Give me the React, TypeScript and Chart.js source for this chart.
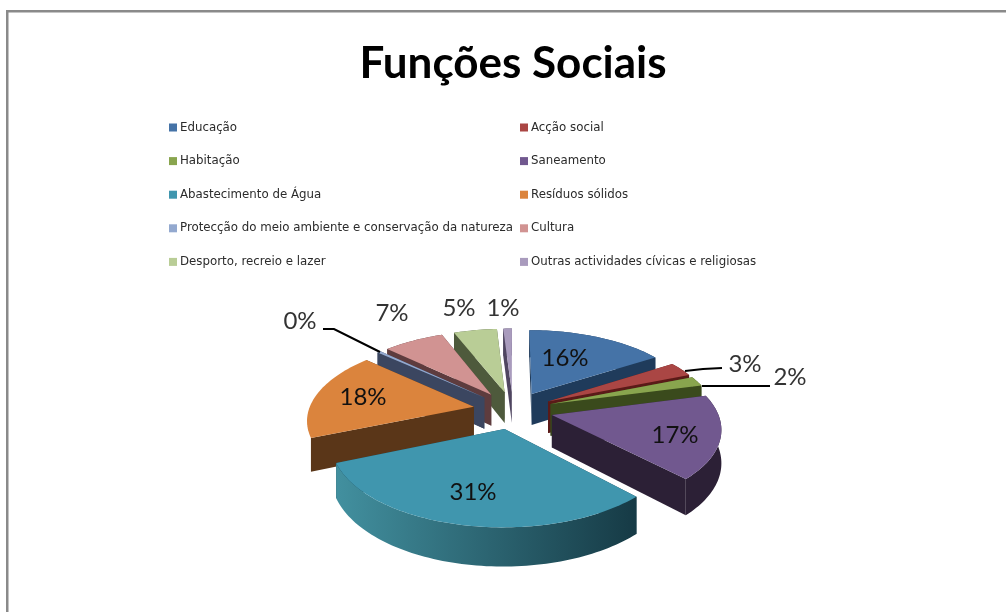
import React, { useEffect, useRef } from "react";
import { Chart, registerables } from "chart.js";

Chart.register(...registerables);

const titleText = "Funções Sociais";
const categories = [
  "Educação",
  "Acção social",
  "Habitação",
  "Saneamento",
  "Abastecimento de Água",
  "Resíduos sólidos",
  "Protecção do meio ambiente e conservação da natureza",
  "Cultura",
  "Desporto, recreio e lazer",
  "Outras actividades cívicas e religiosas",
];
// Shares in percent; the environment share is small enough to round to 0%.
const shares = [16, 3, 2, 17, 31, 18, 0.4, 7, 5, 1];

const topColors = ["#4573a7", "#aa4644", "#89a54e", "#71588f", "#4096ae", "#db843d", "#93a9cf", "#d19392", "#b9cd96", "#a99bbd"];
const sideColors = ["#1f3b5b", "#5a1a18", "#3a4a1c", "#2c2036", "#1b4350", "#5a3618", "#3b4660", "#5e3c3e", "#4e5a3c", "#4f4560"];
const rimStart = ["#1f3b5b", "#5a1a18", "#3a4a1c", "#2c2036", "#42909f", "#5a3618", "#3b4660", "#5e3c3e", "#4e5a3c", "#4f4560"];
const rimEnd = ["#1f3b5b", "#5a1a18", "#3a4a1c", "#2c2036", "#163a45", "#5a3618", "#3b4660", "#5e3c3e", "#4e5a3c", "#4f4560"];
// The left-hand slice shows only its cut face, with no curved wall below the arc.
const hiddenRims = [5];

// Where each percentage sits on the canvas.
const labelAnchors: [number, number][] = [
  [565, 358], [745, 364], [790, 377], [675, 435], [473, 492],
  [363, 397], [300, 321], [392, 313], [459, 308], [503, 308],
];
const leaders: [number, number][][] = [
  [[685, 371], [703, 369], [722, 368]],
  [[702, 386], [770, 386]],
  [[323, 329], [334, 329], [380, 352]],
];
const outsideLabels = [1, 2, 6, 7, 8, 9];

const EXPLODE = 40;
const TILT = 0.47;
const VIEW_DISTANCE = 1114;
const THICKNESS = 32;

type Pt = { x: number; y: number; s: number; v: number };

const tiltedPie = {
  id: "tiltedPie",
  beforeDraw(chart: any) {
    const { ctx } = chart;
    ctx.save();
    ctx.fillStyle = "#ffffff";
    ctx.fillRect(0, 0, chart.width, chart.height);
    ctx.fillStyle = "#8a8a8a";
    ctx.fillRect(6, 10, chart.width - 6, 2.5);
    ctx.fillRect(6, 10, 2.5, chart.height - 10);
    ctx.restore();
  },
  beforeDatasetDraw(chart: any, args: any) {
    const { ctx } = chart;
    const arcs: any[] = chart.getDatasetMeta(args.index).data;
    const cx = arcs[0].x;
    const cy = arcs[0].y;
    const R = arcs[0].outerRadius;

    const project = (u: number, v: number): Pt => {
      const s = 1 / (1 - v / VIEW_DISTANCE);
      return { x: cx + u * s, y: cy + TILT * v * s, s, v };
    };
    const drop = (p: Pt): [number, number] => [p.x, p.y + THICKNESS * p.s];

    const fillPoly = (pts: [number, number][], fill: any) => {
      ctx.beginPath();
      pts.forEach(([x, y], i) => (i ? ctx.lineTo(x, y) : ctx.moveTo(x, y)));
      ctx.closePath();
      ctx.fillStyle = fill;
      ctx.fill();
    };

    const slices = arcs.map((arc, i) => {
      const mid = (arc.startAngle + arc.endAngle) / 2;
      const au = Math.cos(mid) * EXPLODE;
      const av = Math.sin(mid) * EXPLODE;
      const steps = Math.max(2, Math.ceil((arc.endAngle - arc.startAngle) * 40));
      const rim: Pt[] = [];
      for (let k = 0; k <= steps; k++) {
        const a = arc.startAngle + ((arc.endAngle - arc.startAngle) * k) / steps;
        rim.push(project(au + Math.cos(a) * R, av + Math.sin(a) * R));
      }
      return { i, apex: project(au, av), rim, depth: av + Math.sin(mid) * R * 0.5 };
    });

    // Painter's order: the slices farthest from the viewer go first.
    [...slices]
      .sort((a, b) => a.depth - b.depth)
      .forEach(({ i, apex, rim }) => {
        const first = rim[0];
        const last = rim[rim.length - 1];
        const edges = [first, last].sort((a, b) => a.v - b.v);
        edges.forEach((end) => {
          fillPoly([[apex.x, apex.y], [end.x, end.y], drop(end), drop(apex)], sideColors[i]);
        });
        if (!hiddenRims.includes(i)) {
          const xs = rim.map((p) => p.x);
          const grad = ctx.createLinearGradient(Math.min(...xs), 0, Math.max(...xs), 0);
          grad.addColorStop(0, rimStart[i]);
          grad.addColorStop(1, rimEnd[i]);
          const strip: [number, number][] = rim.map((p) => [p.x, p.y]);
          [...rim].reverse().forEach((p) => strip.push(drop(p)));
          fillPoly(strip, grad);
        }
        const top: [number, number][] = [[apex.x, apex.y], ...rim.map((p): [number, number] => [p.x, p.y])];
        fillPoly(top, topColors[i]);
      });
    return false;
  },
  afterDraw(chart: any) {
    const { ctx } = chart;
    ctx.save();

    // Two-column legend, filled row by row.
    ctx.font = "11.8px 'DejaVu Sans'";
    ctx.textBaseline = "middle";
    ctx.textAlign = "left";
    categories.forEach((name, i) => {
      const col = i % 2;
      const row = Math.floor(i / 2);
      const x = col ? 520 : 169;
      const y = 127.5 + row * 33.6;
      ctx.fillStyle = topColors[i];
      ctx.fillRect(x, y - 4, 8, 8);
      ctx.fillStyle = "#2b2b2b";
      ctx.fillText(name, x + 11, y);
    });

    ctx.strokeStyle = "#000000";
    ctx.lineWidth = 2;
    leaders.forEach((path) => {
      ctx.beginPath();
      path.forEach(([x, y], i) => (i ? ctx.lineTo(x, y) : ctx.moveTo(x, y)));
      ctx.stroke();
    });

    ctx.font = "24px Lato";
    ctx.textAlign = "center";
    shares.forEach((share, i) => {
      const [x, y] = labelAnchors[i];
      ctx.fillStyle = outsideLabels.includes(i) ? "#333333" : "#111111";
      ctx.fillText(`${Math.round(share)}%`, x, y);
    });
    ctx.restore();
  },
};

export default function App() {
  const canvasRef = useRef<HTMLCanvasElement | null>(null);

  useEffect(() => {
    const chart = new Chart(canvasRef.current as HTMLCanvasElement, {
      type: "pie",
      data: {
        labels: categories,
        datasets: [{ data: shares, backgroundColor: topColors, borderWidth: 0 }],
      },
      options: {
        animation: false,
        responsive: false,
        events: [],
        layout: { padding: { left: 348, right: 328, top: 0, bottom: 37 } },
        plugins: {
          legend: { display: false },
          tooltip: { enabled: false },
          title: {
            display: true,
            text: titleText,
            color: "#000000",
            font: { family: "Lato", size: 44, weight: "bold", lineHeight: 1.2 },
            padding: { top: 37, bottom: 155 },
          },
        },
      },
      plugins: [tiltedPie],
    } as any);
    return () => chart.destroy();
  }, []);

  return (
    <div style={{ position: "fixed", left: 0, top: 0, width: 1006, height: 612, overflow: "hidden", background: "#fff" }}>
      <canvas ref={canvasRef} width={1006} height={612} style={{ display: "block" }} />
    </div>
  );
}
